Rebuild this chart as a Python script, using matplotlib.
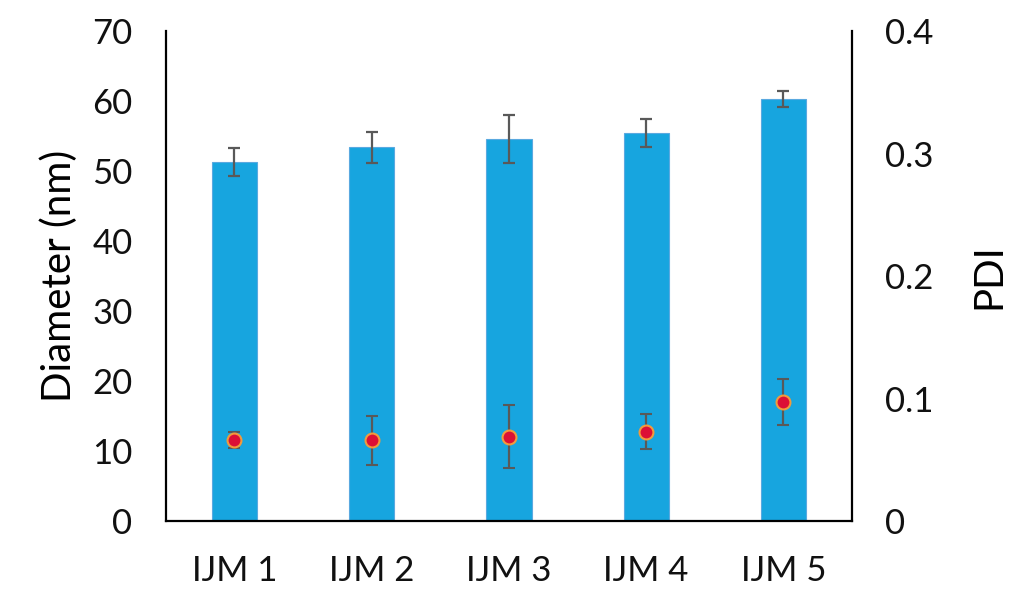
import numpy as np
import matplotlib
matplotlib.use("Agg")
import matplotlib.pyplot as plt

plt.rcParams['font.family'] = ['Lato', 'DejaVu Sans']

# data
samples = ['IJM 1', 'IJM 2', 'IJM 3', 'IJM 4', 'IJM 5']
diameter = [51.3, 53.4, 54.6, 55.4, 60.3]
diameter_err = [2.0, 2.2, 3.4, 2.0, 1.1]
pdi = [0.066, 0.066, 0.069, 0.073, 0.097]
pdi_err = [0.0065, 0.020, 0.0255, 0.0145, 0.0187]

bar_color = '#17a5df'
err_color = '#595959'

fig = plt.figure(figsize=(10.24, 5.97), dpi=100)
ax = fig.add_axes([0.162, 0.127, 0.670, 0.821])
x = np.arange(len(samples))

ax.bar(x, diameter, width=0.33, color=bar_color, edgecolor='#5aa9e0', linewidth=0.8,
       yerr=diameter_err, error_kw=dict(ecolor=err_color, elinewidth=1.6, capsize=4.5, capthick=1.6),
       zorder=2)
ax.set_xlim(-0.5, len(samples) - 0.5)
ax.set_ylim(0, 70)
ax.set_yticks(np.arange(0, 71, 10))
ax.set_xticks(x)
ax.set_xticklabels(samples)
ax.set_ylabel('Diameter (nm)', fontsize=29, labelpad=10)
ax.tick_params(axis='both', length=0, labelsize=25, pad=24, labelcolor='#111111')
for side in ['top', 'right']:
    ax.spines[side].set_visible(False)
for side in ['left', 'bottom']:
    ax.spines[side].set_linewidth(1.6)

ax2 = ax.twinx()
ax2.errorbar(x, pdi, yerr=pdi_err, fmt='o', color='#dc0f35', markersize=10,
             markeredgecolor='#f29a3c', markeredgewidth=1.5,
             ecolor=err_color, elinewidth=1.6, capsize=4.5, capthick=1.6, zorder=3)
ax2.set_ylim(0, 0.4)
ax2.set_yticks([0, 0.1, 0.2, 0.3, 0.4])
ax2.set_yticklabels(['0', '0.1', '0.2', '0.3', '0.4'])
ax2.set_ylabel('PDI', fontsize=29, labelpad=26)
ax2.tick_params(axis='y', length=0, labelsize=25, pad=24, labelcolor='#111111')
ax2.spines['top'].set_visible(False)
ax2.spines['left'].set_visible(False)
ax2.spines['bottom'].set_visible(False)
ax2.spines['right'].set_linewidth(1.6)

fig.savefig('out.png', dpi=100, facecolor='white')
